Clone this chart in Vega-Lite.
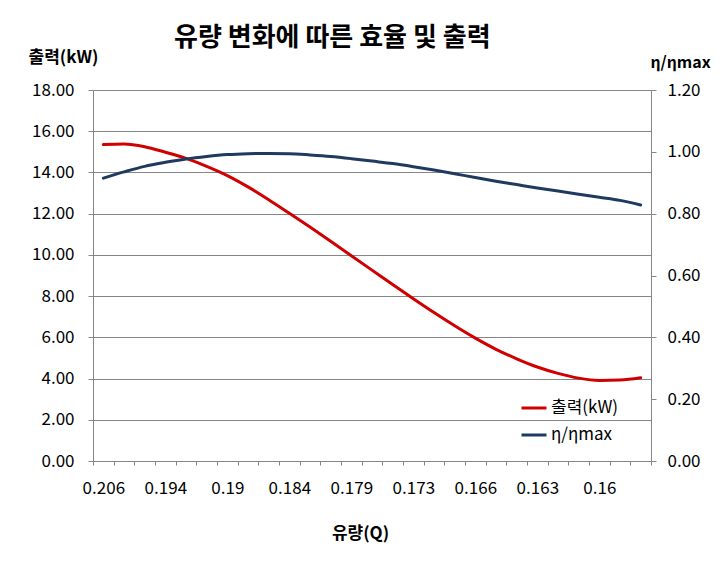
{
  "$schema": "https://vega.github.io/schema/vega-lite/v6.json",
  "width": 558,
  "height": 371,
  "autosize": {"type": "none"},
  "padding": {"left": 93, "top": 90, "right": 77, "bottom": 121},
  "background": "white",
  "title": {
    "text": "유량 변화에 따른 효율 및 출력",
    "font": "Noto Sans CJK KR",
    "fontSize": 26,
    "fontWeight": "bold",
    "color": "#000000",
    "anchor": "start",
    "frame": "group",
    "baseline": "bottom",
    "dx": 81,
    "dy": 29,
    "offset": 0
  },
  "data": {
    "values": [
      {"Q": "0.206", "P": 15.35, "E": 0.915},
      {"Q": "0.202", "P": 15.38, "E": 0.935},
      {"Q": "0.198", "P": 15.25, "E": 0.953},
      {"Q": "0.194", "P": 14.98, "E": 0.966},
      {"Q": "0.193", "P": 14.68, "E": 0.977},
      {"Q": "0.191", "P": 14.30, "E": 0.985},
      {"Q": "0.19", "P": 13.85, "E": 0.991},
      {"Q": "0.188", "P": 13.30, "E": 0.994},
      {"Q": "0.186", "P": 12.68, "E": 0.995},
      {"Q": "0.184", "P": 12.02, "E": 0.994},
      {"Q": "0.182", "P": 11.35, "E": 0.990},
      {"Q": "0.181", "P": 10.66, "E": 0.985},
      {"Q": "0.179", "P": 9.96, "E": 0.978},
      {"Q": "0.177", "P": 9.26, "E": 0.970},
      {"Q": "0.175", "P": 8.56, "E": 0.962},
      {"Q": "0.173", "P": 7.87, "E": 0.952},
      {"Q": "0.171", "P": 7.20, "E": 0.941},
      {"Q": "0.168", "P": 6.56, "E": 0.929},
      {"Q": "0.166", "P": 5.96, "E": 0.917},
      {"Q": "0.165", "P": 5.42, "E": 0.905},
      {"Q": "0.164", "P": 4.96, "E": 0.894},
      {"Q": "0.163", "P": 4.56, "E": 0.883},
      {"Q": "0.162", "P": 4.25, "E": 0.873},
      {"Q": "0.161", "P": 4.02, "E": 0.863},
      {"Q": "0.16", "P": 3.91, "E": 0.853},
      {"Q": "0.159", "P": 3.93, "E": 0.843},
      {"Q": "0.158", "P": 4.04, "E": 0.828}
    ]
  },
  "encoding": {
    "x": {
      "field": "Q",
      "type": "ordinal",
      "sort": null,
      "bandPosition": 0.5,
      "scale": {"type": "band", "paddingInner": 0, "paddingOuter": 0},
      "axis": {
        "title": "유량(Q)",
        "titleFont": "Noto Sans CJK KR",
        "titleFontSize": 17,
        "titleFontWeight": "bold",
        "titleColor": "#000000",
        "titleX": 267,
        "titleY": 72,
        "titleAlign": "center",
        "titleBaseline": "middle",
        "labelAngle": 0,
        "labelFont": "Noto Sans CJK KR",
        "labelFontSize": 17,
        "labelColor": "#000000",
        "labelPadding": 15,
        "labelOverlap": false,
        "labelExpr": "indexof(['0.206','0.194','0.19','0.184','0.179','0.173','0.166','0.163','0.16'], datum.value) >= 0 ? datum.label : ''",
        "tickBand": "extent",
        "tickSize": 4,
        "tickColor": "#868686",
        "domainColor": "#868686",
        "grid": false
      }
    }
  },
  "layer": [
    {
      "mark": {"type": "line", "interpolate": "monotone", "strokeWidth": 3, "strokeCap": "round"},
      "encoding": {
        "y": {
          "field": "P",
          "type": "quantitative",
          "scale": {"domain": [0, 18]},
          "axis": {
            "orient": "left",
            "title": "출력(kW)",
            "titleAngle": 0,
            "titleX": -30,
            "titleY": -33,
            "titleAlign": "center",
            "titleBaseline": "middle",
            "titleFont": "Noto Sans CJK KR",
            "titleFontSize": 17,
            "titleFontWeight": "bold",
            "titleColor": "#000000",
            "values": [0, 2, 4, 6, 8, 10, 12, 14, 16, 18],
            "format": ".2f",
            "labelFont": "Noto Sans CJK KR",
            "labelFontSize": 17,
            "labelColor": "#000000",
            "labelPadding": 14,
            "tickSize": 5,
            "tickColor": "#868686",
            "domainColor": "#868686",
            "grid": true,
            "gridColor": "#868686",
            "gridWidth": 1
          }
        },
        "color": {
          "datum": "출력(kW)",
          "type": "nominal",
          "scale": {"domain": ["출력(kW)", "η/ηmax"], "range": ["#d00000", "#1f3a5f"]},
          "legend": {
            "title": null,
            "orient": "none",
            "legendX": 427,
            "legendY": 304,
            "symbolType": "stroke",
            "symbolSize": 625,
            "symbolStrokeWidth": 3,
            "labelFont": "Noto Sans CJK KR",
            "labelFontSize": 17,
            "labelColor": "#000000",
            "labelOffset": 3,
            "rowPadding": 5
          }
        }
      }
    },
    {
      "mark": {"type": "line", "interpolate": "monotone", "strokeWidth": 3, "strokeCap": "round"},
      "encoding": {
        "y": {
          "field": "E",
          "type": "quantitative",
          "scale": {"domain": [0, 1.2]},
          "axis": {
            "orient": "right",
            "title": "η/ηmax",
            "titleAngle": 0,
            "titleX": 29,
            "titleY": -28,
            "titleAlign": "center",
            "titleBaseline": "middle",
            "titleFont": "Noto Sans CJK KR",
            "titleFontSize": 16,
            "titleFontWeight": "bold",
            "titleColor": "#000000",
            "values": [0, 0.2, 0.4, 0.6, 0.8, 1.0, 1.2],
            "format": ".2f",
            "labelFont": "Noto Sans CJK KR",
            "labelFontSize": 17,
            "labelColor": "#000000",
            "labelPadding": 11,
            "tickSize": 5,
            "tickColor": "#868686",
            "domainColor": "#868686",
            "grid": false
          }
        },
        "color": {"datum": "η/ηmax", "type": "nominal"}
      }
    }
  ],
  "resolve": {"scale": {"y": "independent"}},
  "config": {
    "view": {"stroke": null},
    "font": "Noto Sans CJK KR"
  }
}
